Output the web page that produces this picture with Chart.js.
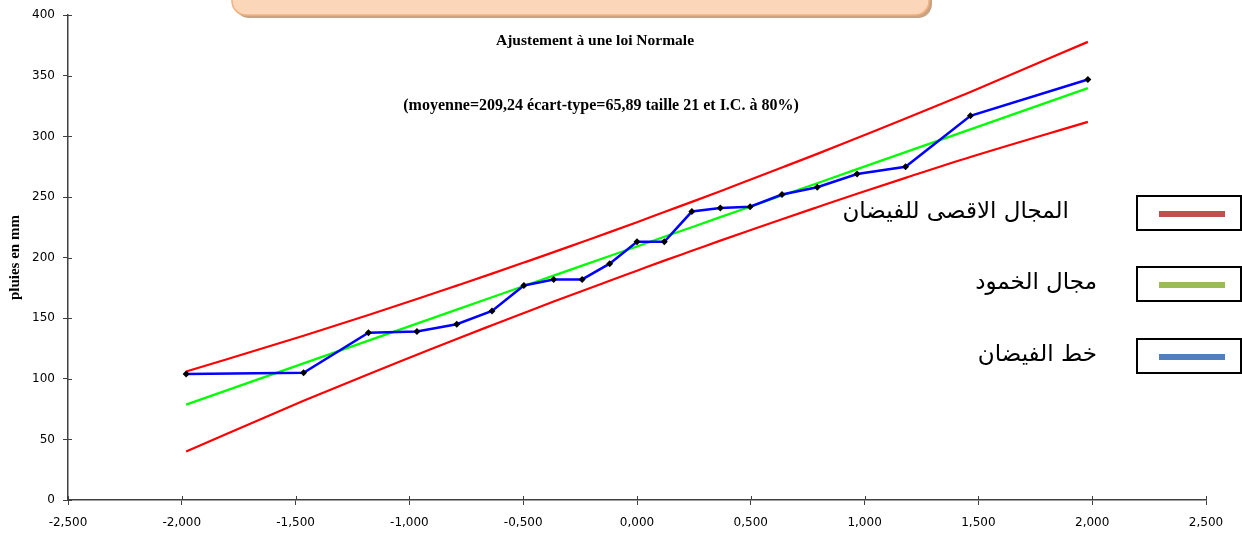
<!DOCTYPE html>
<html lang="fr">
<head>
  <meta charset="UTF-8">
  <title>Ajustement à une loi Normale</title>
  <script src="https://cdn.jsdelivr.net/npm/chart.js"></script>
  <style>
    html, body { margin: 0; padding: 0; background: #fff; }
  </style>
</head>
<body>
  <canvas id="chart" width="1242" height="533"></canvas>

  <script>
    // variable réduite (quantiles de la loi normale)
    const quantiles = [-1.981, -1.465, -1.180, -0.967, -0.792, -0.637, -0.497, -0.366, -0.241, -0.120, 0,
                       0.120, 0.241, 0.366, 0.497, 0.637, 0.792, 0.967, 1.180, 1.465, 1.981];
    // pluies observées (mm)
    const observed = [104, 105, 138, 139, 145, 156, 177, 182, 182, 195, 213,
                      213, 238, 241, 242, 252, 258, 269, 275, 317, 347];
    // droite d'ajustement
    const fitted = [78.7, 112.7, 131.5, 145.5, 157.1, 167.3, 176.5, 185.1, 193.4, 201.3, 209.2,
                    217.2, 225.1, 233.4, 242.0, 251.2, 261.4, 273.0, 287.0, 305.8, 339.8];
    // bornes de l'intervalle de confiance à 80%
    const upperBound = [106, 135.5, 152.7, 165.8, 176.9, 186.8, 195.9, 204.5, 212.9, 221.0, 229.2,
                        237.6, 246.0, 254.8, 264.2, 274.3, 285.6, 298.7, 314.7, 336.7, 378];
    const lowerBound = [40, 81.8, 103.8, 119.8, 132.9, 144.2, 154.3, 163.7, 172.5, 180.9, 189.2,
                        197.5, 205.6, 214.0, 222.6, 231.7, 241.6, 252.7, 265.8, 283.0, 312];

    const titleLines = ["Ajustement à une loi Normale",
                        "(moyenne=209,24 écart-type=65,89 taille 21 et I.C. à 80%)"];
    const legendLabels = ["المجال الاقصى للفيضان", "مجال الخمود", "خط الفيضان"];
    const legendColors = ["#c0504d", "#9bbb59", "#4f81bd"];

    const axisColor = "#404040";

    function pts(ys) {
      return quantiles.map((x, i) => ({ x, y: ys[i] }));
    }

    const decor = {
      id: "decor",
      afterDraw(chart) {
        const ctx = chart.ctx;
        const sx = chart.scales.x, sy = chart.scales.y;
        ctx.save();

        // inner half of the tick marks (ticks cross the axes)
        ctx.strokeStyle = axisColor;
        ctx.lineWidth = 1;
        ctx.beginPath();
        sx.ticks.forEach(t => {
          const px = Math.round(sx.getPixelForValue(t.value)) + 0.5;
          ctx.moveTo(px, sy.bottom);
          ctx.lineTo(px, sy.bottom - 4);
        });
        sy.ticks.forEach(t => {
          const py = Math.round(sy.getPixelForValue(t.value)) + 0.5;
          ctx.moveTo(sx.left, py);
          ctx.lineTo(sx.left + 4, py);
        });
        ctx.stroke();

        // orange banner at the top
        ctx.fillStyle = "#c8a383";
        ctx.beginPath();
        ctx.roundRect(235, -30, 697, 48, 14);
        ctx.fill();
        ctx.fillStyle = "#fbd6b8";
        ctx.strokeStyle = "#f2b27f";
        ctx.lineWidth = 1.5;
        ctx.beginPath();
        ctx.roundRect(232, -30, 697, 45, 14);
        ctx.fill();
        ctx.stroke();

        // titles
        ctx.fillStyle = "#000";
        ctx.textAlign = "center";
        ctx.textBaseline = "alphabetic";
        ctx.font = 'bold 15.5px "Liberation Serif"';
        ctx.fillText(titleLines[0], 595, 45);
        ctx.font = 'bold 16px "Liberation Serif"';
        ctx.fillText(titleLines[1], 601, 110);

        // legend boxes
        const boxes = [196, 267, 339];
        const textRight = [1069, 1097, 1097];
        ctx.font = '23px "DejaVu Sans"';
        ctx.textAlign = "right";
        boxes.forEach((top, i) => {
          ctx.fillStyle = "#fff";
          ctx.fillRect(1137, top, 104, 34);
          ctx.strokeStyle = "#000";
          ctx.lineWidth = 2;
          ctx.strokeRect(1137, top, 104, 34);
          ctx.strokeStyle = legendColors[i];
          ctx.lineWidth = 6;
          ctx.beginPath();
          ctx.moveTo(1159, top + 18);
          ctx.lineTo(1225, top + 18);
          ctx.stroke();
          ctx.fillStyle = "#000";
          ctx.fillText(legendLabels[i], textRight[i], top + 22);
        });

        ctx.restore();
      }
    };

    new Chart(document.getElementById("chart"), {
      type: "scatter",
      data: {
        datasets: [
          {
            label: "observations",
            data: pts(observed),
            showLine: true,
            borderColor: "#0000ff",
            borderWidth: 2.5,
            pointStyle: "rectRot",
            pointRadius: 3.5,
            pointBackgroundColor: "#000",
            pointBorderColor: "#000",
            pointBorderWidth: 0
          },
          {
            label: "ajustement",
            data: pts(fitted),
            showLine: true,
            borderColor: "#00ff00",
            borderWidth: 2.2,
            pointRadius: 0
          },
          {
            label: "borne sup",
            data: pts(upperBound),
            showLine: true,
            cubicInterpolationMode: "monotone",
            borderColor: "#ff0000",
            borderWidth: 2.2,
            pointRadius: 0
          },
          {
            label: "borne inf",
            data: pts(lowerBound),
            showLine: true,
            cubicInterpolationMode: "monotone",
            borderColor: "#ff0000",
            borderWidth: 2.2,
            pointRadius: 0
          }
        ]
      },
      options: {
        responsive: false,
        animation: false,
        layout: { padding: { top: 13, right: 36, left: 0, bottom: 0 } },
        plugins: {
          legend: { display: false },
          tooltip: { enabled: false }
        },
        scales: {
          x: {
            type: "linear",
            min: -2.5,
            max: 2.5,
            afterFit: s => { s.height = 33; },
            border: { color: axisColor, width: 1.5 },
            grid: { drawOnChartArea: false, color: axisColor, tickLength: 5 },
            ticks: {
              stepSize: 0.5,
              color: "#000",
              padding: 11,
              maxRotation: 0,
              font: { family: "DejaVu Sans", size: 12 },
              callback: v => v.toFixed(3).replace(".", ",")
            }
          },
          y: {
            min: 0,
            max: 400,
            afterFit: s => { s.width = 68; },
            border: { color: axisColor, width: 1.5 },
            grid: { drawOnChartArea: false, color: axisColor, tickLength: 5 },
            ticks: {
              stepSize: 50,
              color: "#000",
              padding: 8,
              font: { family: "DejaVu Sans", size: 12 }
            },
            title: {
              display: true,
              text: "pluies en mm",
              color: "#000",
              padding: { top: 6, bottom: 0 },
              font: { family: "Liberation Serif", size: 15, weight: "bold" }
            }
          }
        }
      },
      plugins: [decor]
    });
  </script>
</body>
</html>
